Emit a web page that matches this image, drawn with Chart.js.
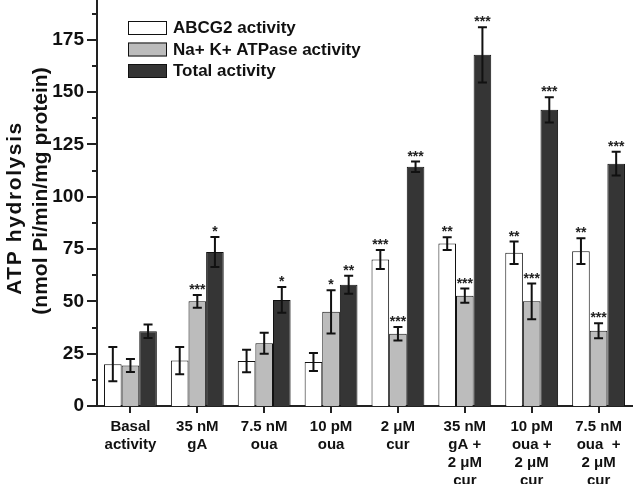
<!DOCTYPE html>
<html>
<head>
<meta charset="utf-8">
<script src="https://cdn.jsdelivr.net/npm/chart.js@4"></script>
<style>
  html, body { margin: 0; padding: 0; background: #fff; }
  #wrap { width: 633px; height: 484px; }
</style>
</head>
<body>
<div id="wrap"><canvas id="atpChart"></canvas></div>
<script>
const categories = [
  ['Basal', 'activity'],
  ['35 nM', 'gA'],
  ['7.5 nM', 'oua'],
  ['10 pM', 'oua'],
  ['2 μM', 'cur'],
  ['35 nM', 'gA +', '2 μM', 'cur'],
  ['10 pM', 'oua +', '2 μM', 'cur'],
  ['7.5 nM', 'oua  +', '2 μM', 'cur']
];

const abcg2 = [20, 21.7, 21.5, 21, 70, 77.6, 73.2, 74];
const abcg2Err = [8.2, 6.5, 5.4, 4.3, 4.5, 3, 5.4, 6.2];
const abcg2Stars = ['', '', '', '', '***', '**', '**', '**'];

const naK = [19.3, 50, 30, 45, 34.5, 52.7, 50, 36];
const naKErr = [3.1, 3, 5, 10.3, 3.2, 3.4, 8.5, 3.6];
const naKStars = ['', '***', '', '*', '***', '***', '***', '***'];

const total = [35.7, 73.6, 50.7, 57.9, 114.3, 167.8, 141.5, 115.8];
const totalErr = [3.2, 7.2, 6.2, 4.3, 2.5, 13.2, 6, 5.7];
const totalStars = ['', '*', '*', '**', '***', '***', '***', '***'];

const yMajorTicks = [0, 25, 50, 75, 100, 125, 150, 175];

const FONT = '"Liberation Sans", Arial, sans-serif';
Chart.defaults.font.family = FONT;
Chart.defaults.color = '#111';

const errors = [abcg2Err, naKErr, totalErr];
const stars = [abcg2Stars, naKStars, totalStars];

const extras = {
  id: 'extras',
  afterDatasetsDraw(chart) {
    const c = chart.ctx;
    const y = chart.scales.y;
    c.save();
    chart.data.datasets.forEach((ds, di) => {
      const meta = chart.getDatasetMeta(di);
      meta.data.forEach((bar, i) => {
        const v = ds.data[i];
        const e = errors[di][i];
        const top = y.getPixelForValue(v + e);
        const bot = y.getPixelForValue(v - e);
        c.strokeStyle = '#111';
        c.lineWidth = 2;
        c.beginPath();
        c.moveTo(bar.x, top); c.lineTo(bar.x, bot);
        c.moveTo(bar.x - 4.5, top); c.lineTo(bar.x + 4.5, top);
        c.moveTo(bar.x - 4.5, bot); c.lineTo(bar.x + 4.5, bot);
        c.stroke();
        const s = stars[di][i];
        if (s) {
          c.fillStyle = '#222';
          c.font = 'bold 14px ' + FONT;
          c.textAlign = 'center';
          c.textBaseline = 'alphabetic';
          c.fillText(s, bar.x, top - 1);
        }
      });
    });
    c.restore();
  },
  afterDraw(chart) {
    const c = chart.ctx;
    const x = chart.scales.x;
    const y = chart.scales.y;
    const area = chart.chartArea;
    c.save();
    c.strokeStyle = '#222';
    c.lineWidth = 2;
    c.beginPath();
    yMajorTicks.forEach(t => {
      const py = Math.round(y.getPixelForValue(t));
      c.moveTo(area.left - 10, py); c.lineTo(area.left, py);
      const pm = Math.round(y.getPixelForValue(t + 12.5));
      c.moveTo(area.left - 5, pm); c.lineTo(area.left, pm);
    });
    categories.forEach((_, i) => {
      const px = Math.round(x.getPixelForValue(i));
      c.moveTo(px, area.bottom); c.lineTo(px, area.bottom + 7);
    });
    c.stroke();

    // legend
    const lx = 128, ly = 21, rowH = 21.5;
    c.font = 'bold 17px ' + FONT;
    c.textBaseline = 'middle';
    c.textAlign = 'left';
    chart.data.datasets.forEach((ds, i) => {
      const yy = ly + i * rowH;
      c.fillStyle = ds.backgroundColor;
      c.fillRect(lx, yy, 39, 14);
      c.lineWidth = 1;
      c.strokeStyle = '#111';
      c.strokeRect(lx + 0.5, yy + 0.5, 38, 13);
      c.fillStyle = '#111';
      c.fillText(ds.label, lx + 45, yy + 7.5);
    });

    // y title, two lines
    c.font = 'bold 21px ' + FONT;
    c.textAlign = 'center';
    c.textBaseline = 'alphabetic';
    c.fillStyle = '#111';
    c.save();
    c.translate(21, 208);
    c.rotate(-Math.PI / 2);
    c.letterSpacing = '1.6px';
    c.fillText('ATP hydrolysis', 0, 0);
    c.restore();
    c.save();
    c.translate(47, 191);
    c.rotate(-Math.PI / 2);
    c.letterSpacing = '0px';
    c.fillText('(nmol Pi/min/mg protein)', 0, 0);
    c.restore();
    c.restore();
  }
};

new Chart(document.getElementById('atpChart'), {
  type: 'bar',
  data: {
    labels: categories,
    datasets: [
      { label: 'ABCG2 activity', data: abcg2, backgroundColor: '#ffffff' },
      { label: 'Na+ K+ ATPase activity', data: naK, backgroundColor: '#bcbcbc' },
      { label: 'Total activity', data: total, backgroundColor: '#353535' }
    ]
  },
  options: {
    responsive: true,
    maintainAspectRatio: false,
    animation: false,
    layout: { padding: { top: 0, right: 1, left: 0, bottom: 0 } },
    datasets: {
      bar: {
        borderColor: '#111',
        borderWidth: 1,
        categoryPercentage: 0.79,
        barPercentage: 1
      }
    },
    plugins: {
      legend: { display: false },
      tooltip: { enabled: false }
    },
    scales: {
      x: {
        grid: { display: false },
        border: { display: true, color: '#222', width: 2 },
        ticks: {
          autoSkip: false,
          maxRotation: 0,
          padding: 4,
          color: '#111',
          font: { size: 15, weight: 'bold', lineHeight: 1.2 }
        },
        afterFit(scale) {
          scale.height = 78;
          scale.paddingLeft = 0;
          scale.paddingRight = 0;
        }
      },
      y: {
        min: 0,
        max: 194,
        grid: { display: false },
        border: { display: true, color: '#222', width: 2 },
        ticks: {
          stepSize: 25,
          includeBounds: false,
          padding: 5,
          color: '#111',
          font: { size: 19, weight: 'bold' }
        },
        afterFit(scale) {
          scale.width = 97;
          scale.paddingTop = 0;
          scale.paddingBottom = 0;
        }
      }
    }
  },
  plugins: [extras]
});
</script>
</body>
</html>
